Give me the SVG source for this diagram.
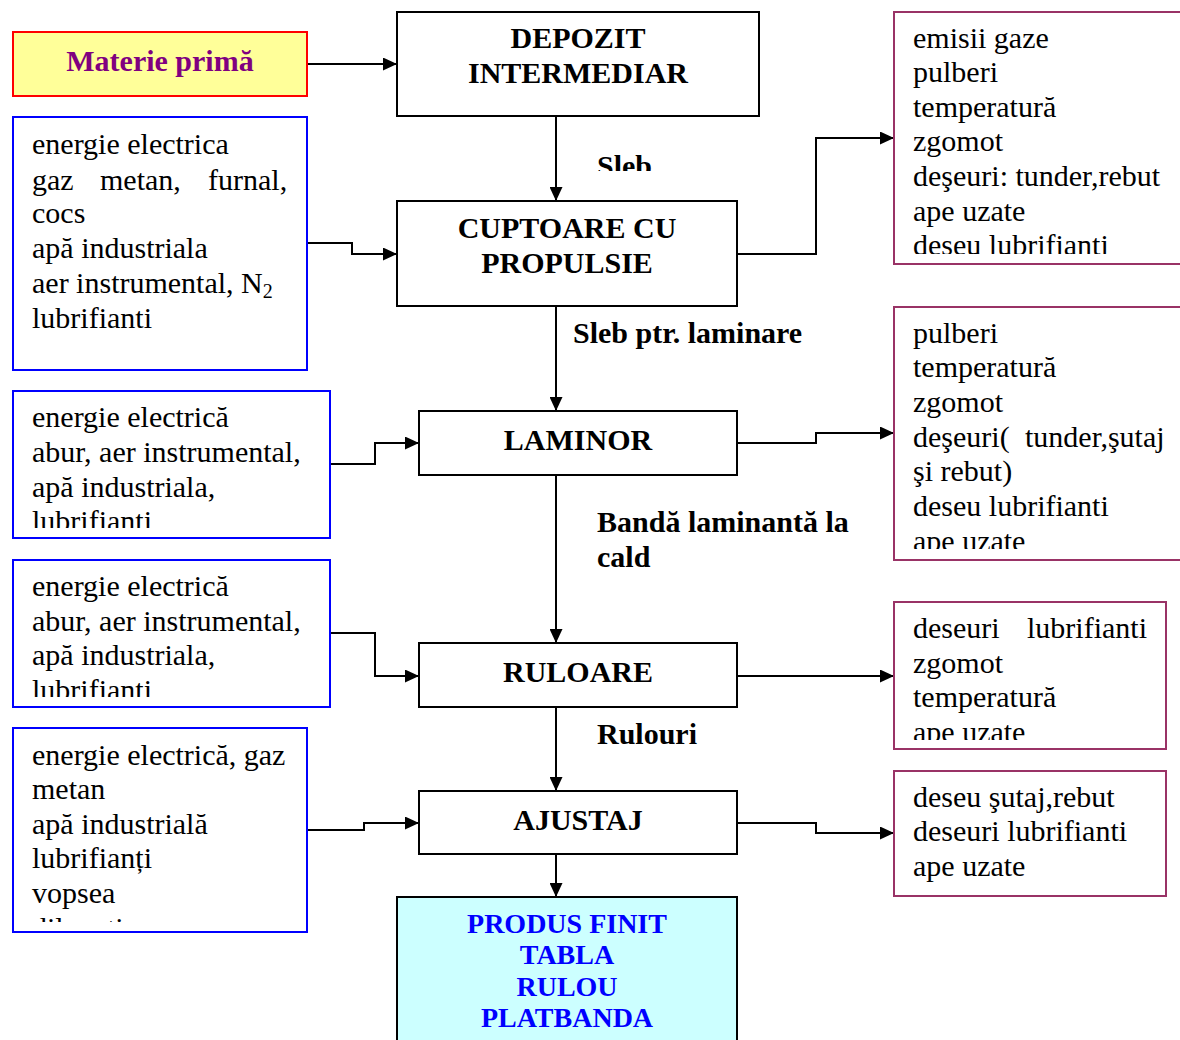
<svg xmlns="http://www.w3.org/2000/svg" width="1180" height="1040" viewBox="0 0 1180 1040">
  <style>
    .t { font-family: "Liberation Serif", "Times New Roman", serif; font-size: 30px; fill: #000; }
    .b { font-weight: bold; }
    .c { text-anchor: middle; }
    .proc { fill: #fff; stroke: #000; stroke-width: 2; }
    .inp { fill: #fff; stroke: #0000FF; stroke-width: 2; }
    .out { fill: #fff; stroke: #993366; stroke-width: 2; }
    .conn { fill: none; stroke: #000; stroke-width: 2; marker-end: url(#arrow); }
  </style>
  <defs>
    <marker id="arrow" markerUnits="userSpaceOnUse" markerWidth="14" markerHeight="13" refX="14" refY="6.5" orient="auto">
      <path d="M0,0 L14,6.5 L0,13 z" fill="#000"/>
    </marker>
    <clipPath id="clipSleb"><rect x="590" y="140" width="100" height="31"/></clipPath>
    <clipPath id="clipIn2"><rect x="14" y="392" width="315" height="136"/></clipPath>
    <clipPath id="clipIn3"><rect x="14" y="561" width="315" height="136"/></clipPath>
    <clipPath id="clipIn4"><rect x="14" y="729" width="292" height="193"/></clipPath>
    <clipPath id="clipOut1"><rect x="895" y="13" width="285" height="241"/></clipPath>
    <clipPath id="clipOut2"><rect x="895" y="308" width="285" height="241"/></clipPath>
    <clipPath id="clipOut3"><rect x="895" y="603" width="270" height="137"/></clipPath>
  </defs>

  <rect width="1180" height="1040" fill="#fff"/>

  <!-- connectors -->
  <g id="connectors">
    <path class="conn" d="M307,64 H397"/>
    <path class="conn" d="M556,116 V201"/>
    <path class="conn" d="M307,243 H352 V254 H397"/>
    <path class="conn" d="M737,254 H816 V138 H894"/>
    <path class="conn" d="M556,306 V411"/>
    <path class="conn" d="M330,464 H375 V443 H419"/>
    <path class="conn" d="M737,443 H816 V433 H894"/>
    <path class="conn" d="M556,475 V643"/>
    <path class="conn" d="M330,633 H375 V676 H419"/>
    <path class="conn" d="M737,676 H894"/>
    <path class="conn" d="M556,707 V791"/>
    <path class="conn" d="M307,830 H364 V823 H419"/>
    <path class="conn" d="M737,823 H816 V833 H894"/>
    <path class="conn" d="M556,854 V897"/>
  </g>

  <!-- flow labels -->
  <g id="flow-labels" class="t b">
    <text x="597" y="176" clip-path="url(#clipSleb)">Sleb</text>
    <text x="573" y="343">Sleb ptr. laminare</text>
    <text x="597" y="532">Bandă laminantă la</text>
    <text x="597" y="567">cald</text>
    <text x="597" y="744">Rulouri</text>
  </g>

  <!-- raw material -->
  <g id="materie-prima">
    <rect x="13" y="32" width="294" height="64" fill="#FFFF99" stroke="#FF0000" stroke-width="2"/>
    <text class="t b c" x="160" y="71" fill="#800080" style="fill:#800080">Materie primă</text>
  </g>

  <!-- process steps -->
  <g id="depozit">
    <rect class="proc" x="397" y="12" width="362" height="104"/>
    <text class="t b c" x="578" y="48">DEPOZIT</text>
    <text class="t b c" x="578" y="83">INTERMEDIAR</text>
  </g>
  <g id="cuptoare">
    <rect class="proc" x="397" y="201" width="340" height="105"/>
    <text class="t b c" x="567" y="238">CUPTOARE CU</text>
    <text class="t b c" x="567" y="273">PROPULSIE</text>
  </g>
  <g id="laminor">
    <rect class="proc" x="419" y="411" width="318" height="64"/>
    <text class="t b c" x="578" y="450">LAMINOR</text>
  </g>
  <g id="ruloare">
    <rect class="proc" x="419" y="643" width="318" height="64"/>
    <text class="t b c" x="578" y="682">RULOARE</text>
  </g>
  <g id="ajustaj">
    <rect class="proc" x="419" y="791" width="318" height="63"/>
    <text class="t b c" x="578" y="830">AJUSTAJ</text>
  </g>
  <g id="produs-finit">
    <rect x="397" y="897" width="340" height="160" fill="#CCFFFF" stroke="#000" stroke-width="2"/>
    <g class="t b c" style="fill:#0000FF; font-size:28px">
      <text x="567" y="933">PRODUS FINIT</text>
      <text x="567" y="964">TABLA</text>
      <text x="567" y="996">RULOU</text>
      <text x="567" y="1027">PLATBANDA</text>
    </g>
  </g>

  <!-- inputs -->
  <g id="intrari-cuptoare">
    <rect class="inp" x="13" y="117" width="294" height="253"/>
    <g class="t">
      <text x="32" y="154">energie electrica</text>
      <text x="32" y="190">gaz</text>
      <text x="100" y="190">metan,</text>
      <text x="208" y="190">furnal,</text>
      <text x="32" y="223">cocs</text>
      <text x="32" y="258">apă industriala</text>
      <text x="32" y="293">aer instrumental, N<tspan font-size="20" dy="5">2</tspan></text>
      <text x="32" y="328">lubrifianti</text>
    </g>
  </g>
  <g id="intrari-laminor">
    <rect class="inp" x="13" y="391" width="317" height="147"/>
    <g class="t" clip-path="url(#clipIn2)">
      <text x="32" y="427">energie electrică</text>
      <text x="32" y="462">abur, aer instrumental,</text>
      <text x="32" y="497">apă industriala,</text>
      <text x="32" y="531">lubrifianti</text>
    </g>
  </g>
  <g id="intrari-ruloare">
    <rect class="inp" x="13" y="560" width="317" height="147"/>
    <g class="t" clip-path="url(#clipIn3)">
      <text x="32" y="596">energie electrică</text>
      <text x="32" y="631">abur, aer instrumental,</text>
      <text x="32" y="665">apă industriala,</text>
      <text x="32" y="700">lubrifianti</text>
    </g>
  </g>
  <g id="intrari-ajustaj">
    <rect class="inp" x="13" y="728" width="294" height="204"/>
    <g class="t" clip-path="url(#clipIn4)">
      <text x="32" y="765">energie electrică, gaz</text>
      <text x="32" y="799">metan</text>
      <text x="32" y="834">apă industrială</text>
      <text x="32" y="868">lubrifianți</text>
      <text x="32" y="903">vopsea</text>
      <text x="32" y="938">diluanti</text>
    </g>
  </g>

  <!-- outputs -->
  <g id="iesiri-cuptoare">
    <rect class="out" x="894" y="12" width="300" height="252"/>
    <g class="t" clip-path="url(#clipOut1)">
      <text x="913" y="48">emisii gaze</text>
      <text x="913" y="82">pulberi</text>
      <text x="913" y="117">temperatură</text>
      <text x="913" y="151">zgomot</text>
      <text x="913" y="186">deşeuri: tunder,rebut</text>
      <text x="913" y="221">ape uzate</text>
      <text x="913" y="255">deseu lubrifianti</text>
    </g>
  </g>
  <g id="iesiri-laminor">
    <rect class="out" x="894" y="307" width="300" height="253"/>
    <g class="t" clip-path="url(#clipOut2)">
      <text x="913" y="343">pulberi</text>
      <text x="913" y="377">temperatură</text>
      <text x="913" y="412">zgomot</text>
      <text x="913" y="447">deşeuri(</text>
      <text x="1025" y="447">tunder,şutaj</text>
      <text x="913" y="481">şi rebut)</text>
      <text x="913" y="516">deseu lubrifianti</text>
      <text x="913" y="551">ape uzate</text>
    </g>
  </g>
  <g id="iesiri-ruloare">
    <rect class="out" x="894" y="602" width="272" height="147"/>
    <g class="t" clip-path="url(#clipOut3)">
      <text x="913" y="638">deseuri</text>
      <text x="1027" y="638">lubrifianti</text>
      <text x="913" y="673">zgomot</text>
      <text x="913" y="707">temperatură</text>
      <text x="913" y="742">ape uzate</text>
    </g>
  </g>
  <g id="iesiri-ajustaj">
    <rect class="out" x="894" y="771" width="272" height="125"/>
    <g class="t">
      <text x="913" y="807">deseu şutaj,rebut</text>
      <text x="913" y="841">deseuri lubrifianti</text>
      <text x="913" y="876">ape uzate</text>
    </g>
  </g>
</svg>
